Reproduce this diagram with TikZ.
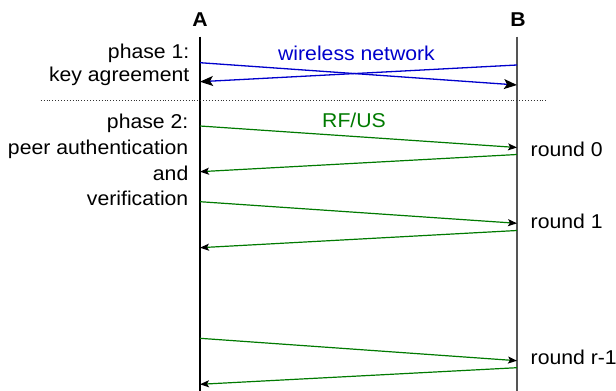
\documentclass[tikz,border=0pt]{standalone}
\usepackage{fontspec}
\setmainfont{Liberation Sans}[FakeStretch=1.06]
\usetikzlibrary{arrows.meta}
\definecolor{netblue}{RGB}{0,0,204}
\definecolor{rfgreen}{RGB}{0,122,0}
\definecolor{lifegray}{RGB}{85,85,85}
\tikzset{
  lbl/.style={inner sep=0pt, font=\fontsize{20}{24}\selectfont},
  party/.style={lbl, font=\fontsize{20}{24}\selectfont\bfseries},
  lifeA/.style={draw=black, line width=1.4pt},
  lifeB/.style={draw=lifegray, line width=1.6pt},
  bluemsg/.style={draw=netblue, line width=1.3pt,
    -{Stealth[length=13pt,width=10pt,inset=3pt,color=black]}},
  greenmsg/.style={draw=rfgreen, line width=1.2pt,
    -{Stealth[length=9pt,width=7pt,inset=2pt,color=black]}},
  sep/.style={draw=black!80, line width=0.9pt, dotted}
}
\begin{document}
\begin{tikzpicture}[x=1pt,y=-1pt]
\useasboundingbox (0,0) rectangle (616,391);

% parties
\node[party, anchor=base] (A) at (200,26) {A};
\node[party, anchor=base] (B) at (518,26) {B};

% lifelines
\coordinate (Atop) at (200,36.7);
\coordinate (Abot) at (200,391);
\coordinate (Btop) at (517,36.7);
\coordinate (Bbot) at (517,391);
\draw[lifeA] (Atop) -- (Abot);
\draw[lifeB] (Btop) -- (Bbot);

% phase separator
\coordinate (sepL) at (40.7,100);
\coordinate (sepR) at (546.7,100);
\draw[sep] (sepL) -- (sepR);

% phase descriptions
\node[lbl, anchor=base east] (p1a) at (189.5,58) {phase 1:};
\node[lbl, anchor=base east] (p1b) at (189.5,81.7) {key agreement};
\node[lbl, anchor=base east] (p2a) at (188.5,128.3) {phase 2:};
\node[lbl, anchor=base east] (p2b) at (188.5,154.3) {peer authentication};
\node[lbl, anchor=base east] (p2c) at (188.5,180) {and};
\node[lbl, anchor=base east] (p2d) at (188.5,205.5) {verification};

% channel labels
\node[lbl, anchor=base, text=netblue] (wn) at (356.5,60) {wireless network};
\node[lbl, anchor=base, text=rfgreen] (rf) at (354,127.3) {RF/US};

% round labels
\node[lbl, anchor=base west] (r0) at (530.5,156) {round 0};
\node[lbl, anchor=base west] (r1) at (530.5,228) {round 1};
\node[lbl, anchor=base west] (rr) at (530.5,364) {round r-1};

% key agreement messages
\coordinate (k1s) at (200,62.7);
\coordinate (k1e) at (517,85);
\coordinate (k2s) at (517,65);
\coordinate (k2e) at (200,81.7);
\draw[bluemsg] (k1s) -- (k1e);
\draw[bluemsg] (k2s) -- (k2e);

% authentication rounds
\coordinate (g1s) at (200,126);
\coordinate (g1e) at (517,147.5);
\coordinate (g2s) at (517,154.5);
\coordinate (g2e) at (200,171.7);
\coordinate (g3s) at (200,201.7);
\coordinate (g3e) at (517,223.3);
\coordinate (g4s) at (517,230.5);
\coordinate (g4e) at (200,247.7);
\coordinate (g5s) at (200,338.3);
\coordinate (g5e) at (517,360.7);
\coordinate (g6s) at (517,367.7);
\coordinate (g6e) at (200,384.3);
\draw[greenmsg] (g1s) -- (g1e);
\draw[greenmsg] (g2s) -- (g2e);
\draw[greenmsg] (g3s) -- (g3e);
\draw[greenmsg] (g4s) -- (g4e);
\draw[greenmsg] (g5s) -- (g5e);
\draw[greenmsg] (g6s) -- (g6e);
\end{tikzpicture}
\end{document}
